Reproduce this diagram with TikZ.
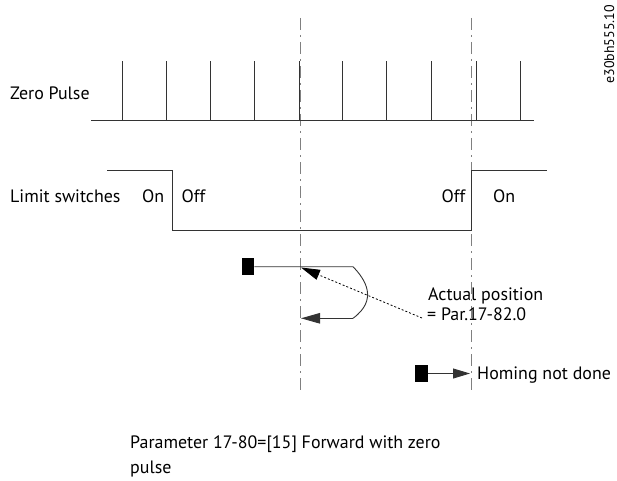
\documentclass[tikz,border=0pt]{standalone}
\usepackage{fontspec}
\setmainfont{PT Sans}
\usetikzlibrary{arrows.meta}
\begin{document}
\begin{tikzpicture}[x=1bp,y=-1bp,
  sig/.style={line width=0.9bp,black!80},
  axis/.style={line width=0.9bp,gray,dash pattern=on 12bp off 5bp on 2bp off 5bp},
  lbl/.style={font=\fontsize{18}{21}\selectfont,inner sep=0pt,anchor=base west},
  blk/.style={fill=black,draw=none},
  bigarrow/.style={-{Triangle[length=19bp,width=10.5bp]}},
]
\useasboundingbox (0,0) rectangle (617,481);
% vertical dash-dot lines
\coordinate (v1t) at (300,18); \coordinate (v1b) at (300,393);
\coordinate (v2t) at (471,18); \coordinate (v2b) at (471,393);
\draw[axis] (v1t) -- (v1b);
\draw[axis] (v2t) -- (v2b);
% zero pulse
\coordinate (zp0) at (91,120); \coordinate (zp1) at (534,120);
\draw[sig] (zp0) -- (zp1);
\foreach \x in {122,166,210,254,299,342,386,431,476,520}
  \draw[sig] (\x,120) -- (\x,61);
\node[lbl] (zpl) at (10,100) {Zero Pulse};
% limit switches
\coordinate (ls0) at (107,170.5);
\coordinate (ls1) at (172.5,170.5);
\coordinate (ls2) at (172.5,230.5);
\coordinate (ls3) at (471,230.5);
\coordinate (ls4) at (471,170.5);
\coordinate (ls5) at (546.5,170.5);
\draw[sig] (ls0) -- (ls1) -- (ls2) -- (ls3) -- (ls4) -- (ls5);
\node[lbl] (lsl) at (10,203) {Limit switches};
\node[lbl] (on1) at (142,203) {On};
\node[lbl] (off1) at (181.5,203) {Off};
\node[lbl] (off2) at (441.5,203) {Off};
\node[lbl] (on2) at (493,203) {On};
% return path
\node[blk,minimum width=12.5bp,minimum height=16.5bp,inner sep=0pt] (sq1) at (248,266.7) {};
\coordinate (c1) at (353,266.7);
\coordinate (c2) at (353,318.3);
\coordinate (tip1) at (301,318.3);
\draw[sig] (sq1.east) -- (c1) .. controls (366,280) and (378,300) .. (c2);
\draw[sig,bigarrow] (c2) -- (tip1);
% dotted pointer
\node[lbl] (ap1) at (428,300) {Actual position};
\node[lbl] (ap2) at (427,320.5) {= Par.17-82.0};
\coordinate (dstart) at (422,318);
\coordinate (tip2) at (301,267.5);
\draw[line width=0.8bp,black,dash pattern=on 2bp off 2bp,-{Triangle[length=19bp,width=10.5bp]}] (dstart) -- (tip2);
% homing not done
\node[blk,minimum width=12.5bp,minimum height=16.5bp,inner sep=0pt] (sq2) at (421.5,373.5) {};
\coordinate (tip3) at (470,373.5);
\draw[sig,-{Triangle[length=17bp,width=10bp]}] (sq2.east) -- (tip3);
\node[lbl] (hnd) at (477,379) {Homing not done};
% caption
\node[lbl] (cap1) at (130,448) {Parameter 17-80=[15] Forward with zero};
\node[lbl] (cap2) at (130,473) {pulse};
% figure id
\node[font=\fontsize{14}{16}\selectfont,inner sep=0pt,rotate=90,anchor=base east] (fid) at (614,5) {e30bh555.10};
\end{tikzpicture}
\end{document}
